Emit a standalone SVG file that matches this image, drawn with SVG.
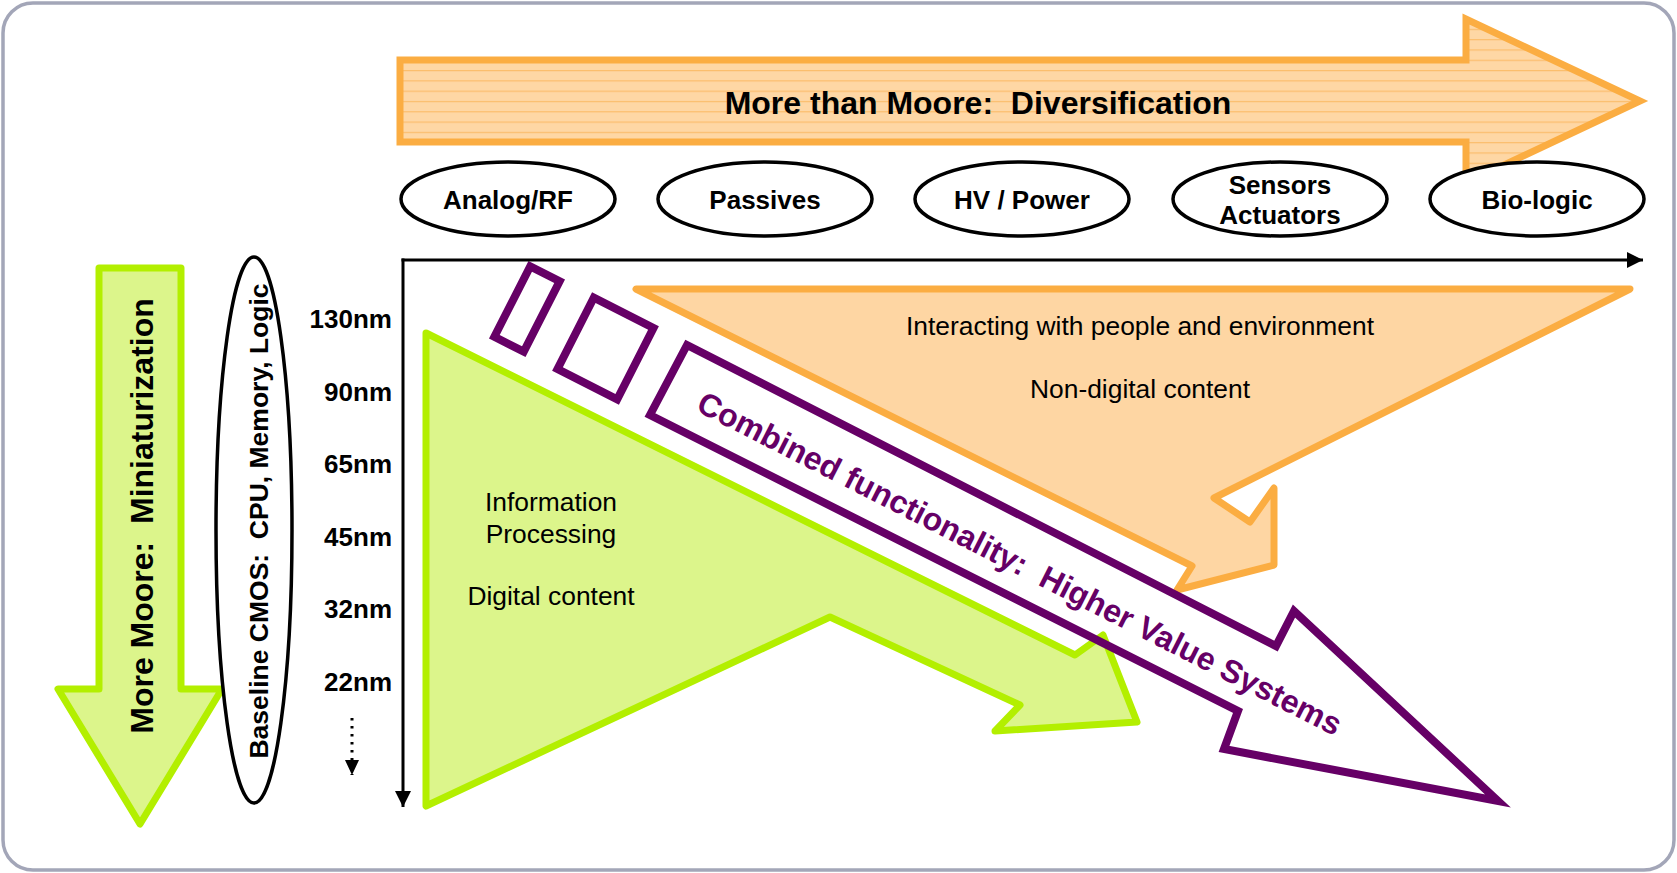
<svg xmlns="http://www.w3.org/2000/svg" width="1677" height="873" viewBox="0 0 1677 873">
<style>
text{font-family:"Liberation Sans",Arial,sans-serif;white-space:pre;fill:#000}
.b{font-weight:bold}
.lbl{font-size:26px;font-weight:bold;text-anchor:middle}
.nm{font-size:26px;font-weight:bold;text-anchor:end}
.reg{font-size:26.4px;text-anchor:middle}
.oval{fill:#fff;stroke:#000;stroke-width:3.5}
.green{fill:#dcf58b;stroke:#b3ef00;stroke-width:7;stroke-linejoin:round}
.orange{fill:#fed6a3;stroke:#fbad42;stroke-width:7;stroke-linejoin:round}
.purple{fill:none;stroke:#660066;stroke-width:8;stroke-linejoin:miter;stroke-miterlimit:10}
.axis{stroke:#000;stroke-width:3;fill:none}
</style>
<defs>
<pattern id="hlines" patternUnits="userSpaceOnUse" x="0" y="70" width="20" height="10.3">
<rect width="20" height="10.3" fill="#fed7a5"/>
<rect width="20" height="1.2" fill="#fbbd6c"/>
</pattern>
<marker id="ah" markerUnits="userSpaceOnUse" markerWidth="16" markerHeight="16" viewBox="0 0 16 16" refX="16" refY="8" orient="auto">
<path d="M0,0 L16,8 L0,16 z" fill="#000"/>
</marker>
<marker id="ahs" markerUnits="userSpaceOnUse" markerWidth="15" markerHeight="14" viewBox="0 0 15 14" refX="15" refY="7" orient="auto">
<path d="M0,0 L15,7 L0,14 z" fill="#000"/>
</marker>
</defs>
<rect id="frame" x="3" y="3" width="1671" height="867" rx="30" ry="30" fill="#fff" stroke="#a3a6b8" stroke-width="3.5"/>

<g id="more-than-moore">
<polygon points="400,60 1466,60 1466,19 1640,101 1466,183 1466,142 400,142" fill="url(#hlines)" stroke="#fbad42" stroke-width="7"/>
<text class="b" x="978" y="114" font-size="32" text-anchor="middle">More than Moore:  Diversification</text>
</g>

<g id="analog-rf"><ellipse class="oval" cx="508" cy="199" rx="107" ry="37"/><text class="lbl" x="508" y="208.5">Analog/RF</text></g>
<g id="passives"><ellipse class="oval" cx="765" cy="199" rx="107" ry="37"/><text class="lbl" x="765" y="208.5">Passives</text></g>
<g id="hv-power"><ellipse class="oval" cx="1022" cy="199" rx="107" ry="37"/><text class="lbl" x="1022" y="208.5">HV / Power</text></g>
<g id="sensors"><ellipse class="oval" cx="1280" cy="199" rx="107" ry="37"/><text class="lbl" x="1280" y="194">Sensors</text><text class="lbl" x="1280" y="224">Actuators</text></g>
<g id="bio-logic"><ellipse class="oval" cx="1537" cy="199" rx="107" ry="37"/><text class="lbl" x="1537" y="208.5">Bio-logic</text></g>

<g id="more-moore">
<polygon class="green" points="99,268 181,268 181,689 222,689 140,824 58,689 99,689"/>
<text class="b" font-size="32" text-anchor="middle" transform="translate(153,516) rotate(-90)">More Moore:  Miniaturization</text>
</g>

<g id="baseline-cmos">
<ellipse class="oval" cx="254" cy="530" rx="38" ry="273"/>
<text class="b" font-size="26.5" text-anchor="middle" transform="translate(268,521) rotate(-90)">Baseline CMOS:  CPU, Memory, Logic</text>
</g>

<g id="nodes-labels">
<text class="nm" x="392" y="328">130nm</text>
<text class="nm" x="392" y="401">90nm</text>
<text class="nm" x="392" y="473">65nm</text>
<text class="nm" x="392" y="546">45nm</text>
<text class="nm" x="392" y="618">32nm</text>
<text class="nm" x="392" y="691">22nm</text>
</g>

<g id="non-digital">
<polygon class="orange" points="636,289 1630,289 1214,498 1250,522 1274,488 1274,565 1177,590 1192,566"/>
<text class="reg" x="1140" y="335">Interacting with people and environment</text>
<text class="reg" x="1140" y="398">Non-digital content</text>
</g>

<g id="digital">
<polygon class="green" points="426,333 1075,655 1103,635 1137,722 995,731 1020,705 830,617 426,806"/>
<text class="reg" x="551" y="511">Information</text>
<text class="reg" x="551" y="543">Processing</text>
<text class="reg" x="551" y="605">Digital content</text>
</g>

<g id="combined">
<rect class="purple" x="-16.5" y="-39.5" width="33" height="79" transform="translate(527,309) rotate(27)"/>
<rect class="purple" x="-33.5" y="-40" width="67" height="80" transform="translate(605.5,348.5) rotate(27)"/>
<polygon class="purple" points="687,345 1276,646 1294,611 1498,801 1224,749 1238,711 650,415"/>
<text class="b" font-size="32" text-anchor="middle" fill="#660066" style="fill:#660066" transform="translate(1020,563) rotate(27)" y="11.5">Combined functionality:  Higher Value Systems</text>
</g>

<g id="connectors">
<line class="axis" x1="401.5" y1="260" x2="1643" y2="260" marker-end="url(#ah)"/>
<line class="axis" x1="403" y1="258.5" x2="403" y2="807" marker-end="url(#ah)"/>
<line x1="352" y1="718" x2="352" y2="775" stroke="#000" stroke-width="3" stroke-dasharray="2.5 5.5" marker-end="url(#ahs)"/>
</g>
</svg>
